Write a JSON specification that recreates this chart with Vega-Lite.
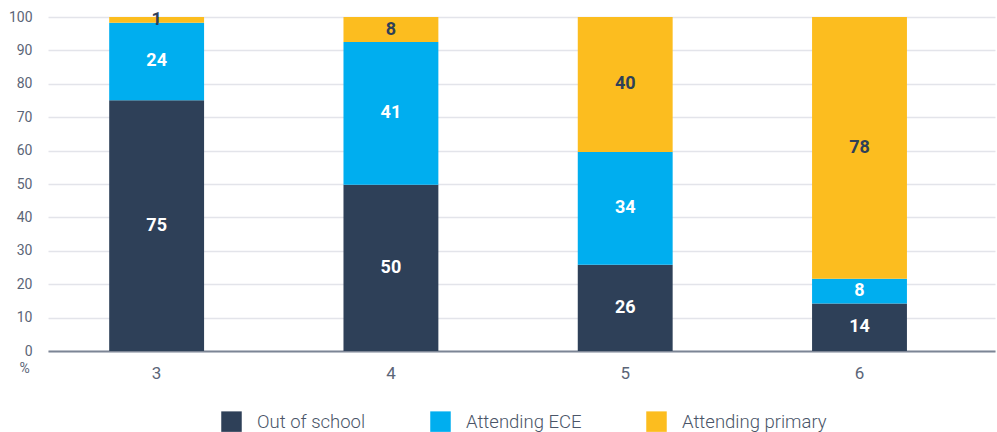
{
  "$schema": "https://vega.github.io/schema/vega-lite/v6.json",
  "width": 947,
  "height": 334,
  "autosize": {"type": "none"},
  "padding": {"left": 48, "top": 17, "right": 2, "bottom": 81},
  "background": "white",
  "config": {
    "view": {"stroke": null},
    "font": "Roboto"
  },
  "data": {
    "values": [
      {"age": "3", "status": "Out of school", "order": 1, "value": 75.1, "label": "75"},
      {"age": "3", "status": "Attending ECE", "order": 2, "value": 23.2, "label": "24"},
      {"age": "3", "status": "Attending primary", "order": 3, "value": 1.7, "label": "1"},
      {"age": "4", "status": "Out of school", "order": 1, "value": 49.8, "label": "50"},
      {"age": "4", "status": "Attending ECE", "order": 2, "value": 42.7, "label": "41"},
      {"age": "4", "status": "Attending primary", "order": 3, "value": 7.5, "label": "8"},
      {"age": "5", "status": "Out of school", "order": 1, "value": 25.8, "label": "26"},
      {"age": "5", "status": "Attending ECE", "order": 2, "value": 33.8, "label": "34"},
      {"age": "5", "status": "Attending primary", "order": 3, "value": 40.4, "label": "40"},
      {"age": "6", "status": "Out of school", "order": 1, "value": 14.2, "label": "14"},
      {"age": "6", "status": "Attending ECE", "order": 2, "value": 7.4, "label": "8"},
      {"age": "6", "status": "Attending primary", "order": 3, "value": 78.4, "label": "78"}
    ]
  },
  "encoding": {
    "x": {
      "field": "age",
      "type": "nominal",
      "scale": {"paddingInner": 0.595, "paddingOuter": 0.3185, "align": 0.41},
      "axis": {
        "title": null,
        "labelAngle": 0,
        "labelFontSize": 17,
        "labelColor": "#5b6577",
        "labelPadding": 14,
        "ticks": false,
        "domainColor": "#7c8595",
        "domainWidth": 2
      }
    },
    "y": {
      "field": "value",
      "type": "quantitative",
      "stack": "zero",
      "scale": {"domain": [0, 100], "nice": false},
      "axis": {
        "values": [0, 10, 20, 30, 40, 50, 60, 70, 80, 90, 100],
        "title": "%",
        "titleAngle": 0,
        "titleX": -24,
        "titleY": 351,
        "titleAlign": "center",
        "titleBaseline": "middle",
        "titleFontSize": 14,
        "titleFontWeight": "normal",
        "titleColor": "#5b6577",
        "labelFontSize": 14,
        "labelColor": "#5b6577",
        "labelPadding": 16,
        "ticks": false,
        "domain": false,
        "gridColor": "#e3e4ea",
        "gridWidth": 1.5
      }
    },
    "order": {"field": "order", "type": "quantitative"}
  },
  "layer": [
    {
      "mark": {"type": "bar"},
      "encoding": {
        "color": {
          "field": "status",
          "type": "nominal",
          "scale": {
            "domain": ["Out of school", "Attending ECE", "Attending primary"],
            "range": ["#2e4058", "#00aeef", "#fcbd1f"]
          },
          "legend": {
            "title": null,
            "orient": "none",
            "direction": "horizontal",
            "legendX": 173,
            "legendY": 394,
            "symbolType": "square",
            "symbolSize": 420,
            "symbolStrokeWidth": 0,
            "symbolOpacity": 1,
            "labelFontSize": 18.5,
            "labelFontWeight": 300,
            "labelColor": "#4a5568",
            "labelOffset": 15,
            "columnPadding": 64,
            "gridAlign": "each"
          }
        }
      }
    },
    {
      "mark": {"type": "text", "fontSize": 18, "fontWeight": "bold"},
      "encoding": {
        "y": {"field": "value", "type": "quantitative", "stack": "zero", "bandPosition": 0.5},
        "text": {"field": "label"},
        "color": {
          "field": "status",
          "type": "nominal",
          "scale": {
            "domain": ["Out of school", "Attending ECE", "Attending primary"],
            "range": ["#ffffff", "#ffffff", "#2e4058"]
          },
          "legend": null
        }
      }
    }
  ],
  "resolve": {"scale": {"color": "independent"}}
}
